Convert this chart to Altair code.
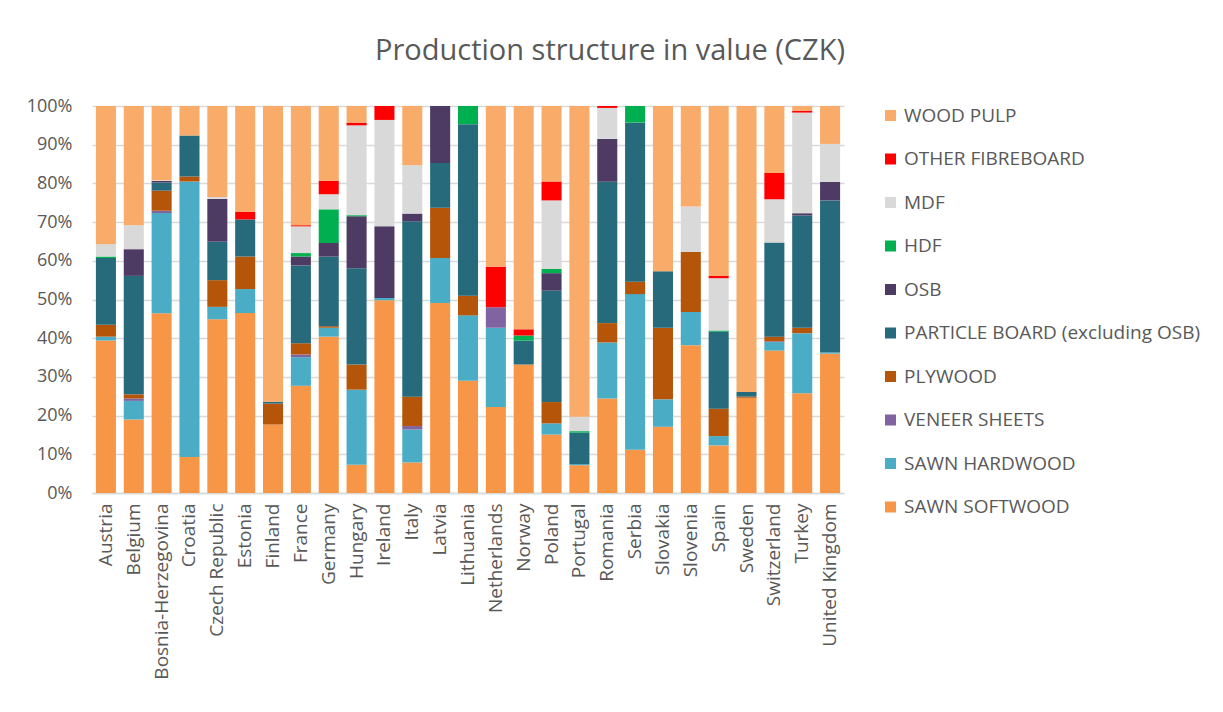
import altair as alt
import pandas as pd

countries = ["Austria", "Belgium", "Bosnia-Herzegovina", "Croatia", "Czech Republic", "Estonia",
             "Finland", "France", "Germany", "Hungary", "Ireland", "Italy", "Latvia", "Lithuania",
             "Netherlands", "Norway", "Poland", "Portugal", "Romania", "Serbia", "Slovakia",
             "Slovenia", "Spain", "Sweden", "Switzerland", "Turkey", "United Kingdom"]

# stack order bottom -> top
categories = ["SAWN SOFTWOOD", "SAWN HARDWOOD", "VENEER SHEETS", "PLYWOOD",
              "PARTICLE BOARD (excluding OSB)", "OSB", "HDF", "MDF", "OTHER FIBREBOARD", "WOOD PULP"]
colors = ["#F79646", "#4BACC6", "#8064A2", "#B45509", "#266A7C", "#4E3B63", "#00B050",
          "#D9D9D9", "#FF0000", "#F9AB6A"]

sawn_softwood = [39.4, 19.0, 46.5, 9.3, 44.9, 46.5, 17.7, 27.7, 40.4, 7.3, 49.8, 7.9, 49.1, 29.0,
                 22.2, 33.2, 15.1, 7.2, 24.4, 11.2, 17.1, 38.2, 12.3, 24.6, 36.8, 25.8, 36.0]
sawn_hardwood = [1.0, 4.8, 25.9, 71.2, 3.2, 6.2, 0, 7.4, 2.3, 19.4, 0.6, 8.5, 11.6, 16.9,
                 20.5, 0, 2.9, 0.3, 14.5, 40.2, 7.1, 8.6, 2.4, 0, 2.2, 15.5, 0.3]
veneer_sheets = [0, 0.6, 0.6, 0, 0, 0, 0, 0.7, 0, 0, 0, 0.9, 0, 0,
                 5.3, 0, 0, 0, 0, 0, 0, 0, 0, 0, 0.2, 0, 0]
plywood = [3.1, 1.1, 5.2, 1.3, 6.9, 8.4, 5.4, 2.9, 0.4, 6.5, 0, 7.6, 13.0, 5.1,
           0, 0, 5.5, 0, 5.0, 3.2, 18.5, 15.5, 7.1, 0.3, 1.2, 1.4, 0]
particle_board = [17.2, 30.6, 2.1, 10.6, 9.9, 9.6, 0.5, 20.1, 18.0, 24.9, 0, 45.3, 11.6, 44.3,
                  0, 6.2, 28.8, 8.1, 36.5, 41.1, 14.6, 0, 19.9, 1.2, 24.3, 29.0, 39.3]
osb = [0, 6.9, 0.4, 0, 11.1, 0, 0, 2.3, 3.5, 13.4, 18.5, 2.0, 14.7, 0,
       0, 0, 4.5, 0, 11.1, 0, 0, 0, 0, 0, 0, 0.6, 4.8]
hdf = [0.4, 0, 0, 0, 0, 0, 0, 0.9, 8.7, 0.3, 0, 0, 0, 4.7,
       0, 1.3, 1.1, 0.4, 0, 4.3, 0, 0, 0.3, 0, 0, 0, 0]
mdf = [3.2, 6.2, 0.2, 0, 0.5, 0, 0, 6.9, 3.9, 23.2, 27.5, 12.5, 0, 0,
       0, 0, 17.7, 3.7, 8.0, 0, 0, 11.7, 13.5, 0, 11.2, 26.0, 9.8]
other_fibreboard = [0, 0, 0, 0, 0, 2.0, 0, 0.3, 3.5, 0.7, 3.6, 0, 0, 0,
                    10.5, 1.6, 4.9, 0, 0.5, 0, 0, 0, 0.6, 0, 6.8, 0.5, 0]
wood_pulp = [35.7, 30.8, 19.2, 7.6, 23.5, 27.3, 76.4, 30.8, 19.3, 4.3, 0, 15.3, 0, 0,
             41.5, 57.7, 19.5, 80.4, 0, 0, 42.7, 26.0, 43.9, 73.9, 17.3, 1.2, 9.8]

series = [sawn_softwood, sawn_hardwood, veneer_sheets, plywood, particle_board, osb, hdf, mdf,
          other_fibreboard, wood_pulp]

rows = []
for ci, (cat, vals) in enumerate(zip(categories, series)):
    for country, v in zip(countries, vals):
        rows.append({"country": country, "category": cat, "value": v, "idx": ci})
df = pd.DataFrame(rows)

FONT = "Open Sans"
GRAY = "#595959"

chart = alt.Chart(df).mark_bar().encode(
    x=alt.X("country:N", sort=countries,
            scale=alt.Scale(paddingInner=0.28, paddingOuter=0.14),
            axis=alt.Axis(title=None, labelAngle=-90, labelFontSize=19, labelColor=GRAY,
                          labelFont=FONT, labelPadding=10, ticks=False, domainColor="#D9D9D9",
                          domainWidth=1.5, grid=False)),
    y=alt.Y("value:Q", stack="normalize",
            scale=alt.Scale(domain=[0, 1], nice=False),
            axis=alt.Axis(title=None, format="%", values=[i / 10 for i in range(11)],
                          labelFontSize=18, labelColor=GRAY, labelFont=FONT, labelPadding=20,
                          ticks=False, domain=False, gridColor="#D9D9D9", gridWidth=1.5)),
    color=alt.Color("category:N",
                    scale=alt.Scale(domain=categories[::-1], range=colors[::-1]),
                    legend=alt.Legend(title=None, orient="right", offset=37, symbolType="square",
                                      symbolSize=121, symbolStrokeWidth=0, labelFontSize=19,
                                      labelColor=GRAY, labelFont=FONT, rowPadding=23.5,
                                      labelLimit=400)),
    order=alt.Order("idx:Q", sort="ascending"),
).properties(
    width=752, height=387,
    title=alt.TitleParams("Production structure in value (CZK)", fontSize=29, color=GRAY,
                          font=FONT, fontWeight="normal", anchor="middle", offset=31, dx=142),
    padding={"left": 18, "top": 29, "right": 5, "bottom": 5},
).configure_view(stroke=None)

chart.save("out.html", embed_options={"renderer": "svg", "actions": False})
